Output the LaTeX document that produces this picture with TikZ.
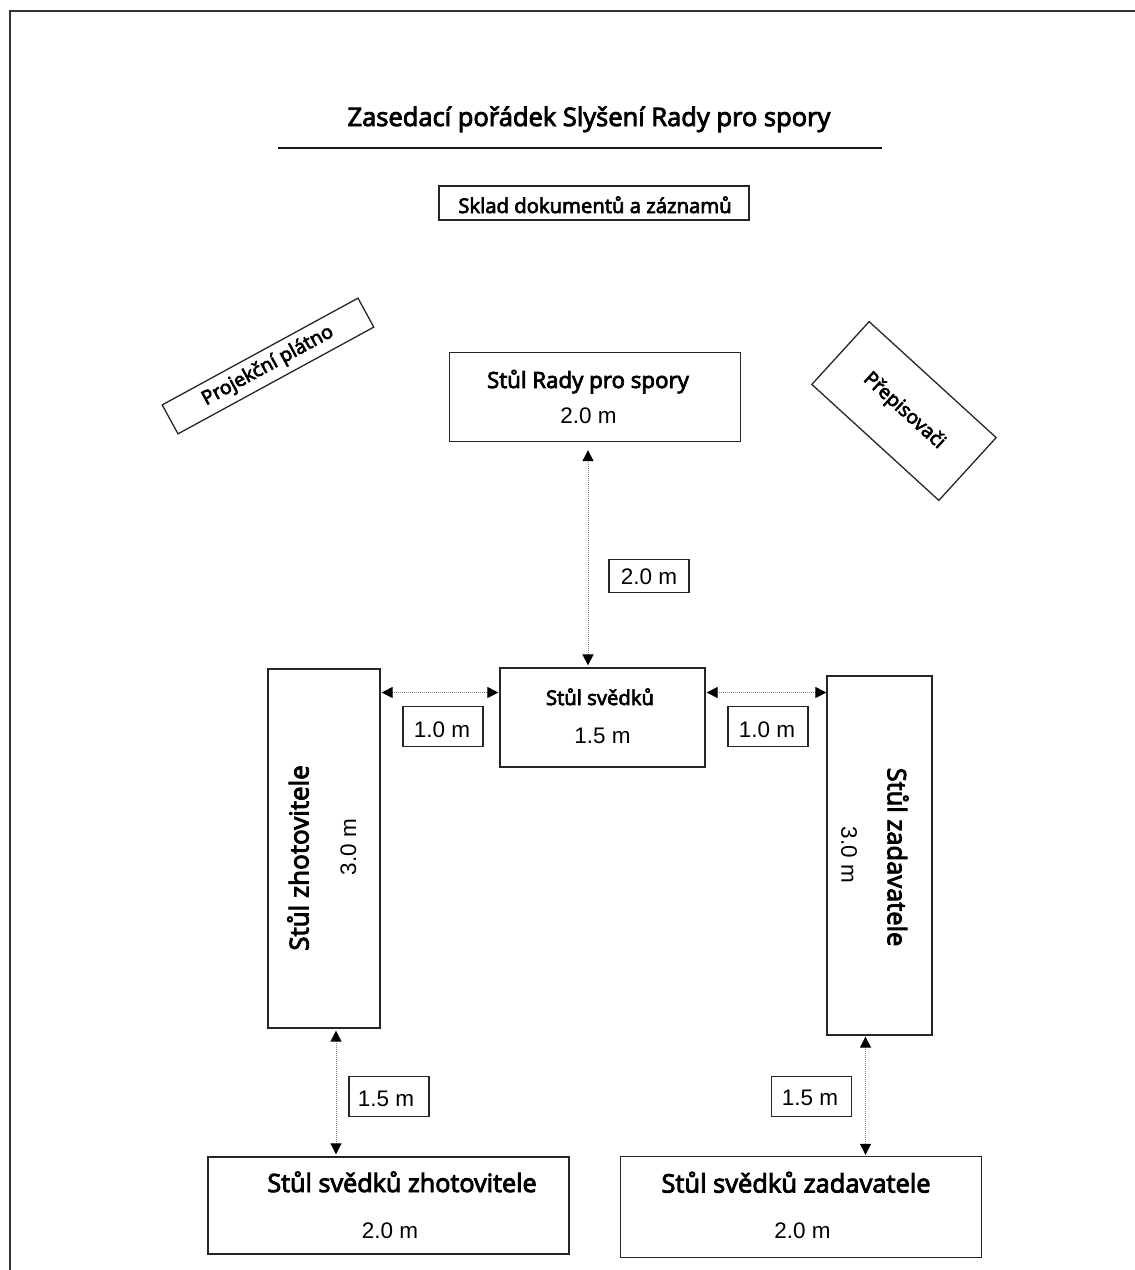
\documentclass[tikz,border=0pt]{standalone}
\usepackage{fontspec}
\setmainfont{Open Sans}
\newfontfamily\lblfont{Open Sans}[FakeBold=3.5]
\newfontfamily\numfont{Liberation Sans}
\usetikzlibrary{arrows.meta}
\tikzset{
  tbl/.style={draw=black!85, line width=1.3pt, inner sep=0pt, rectangle},
  lbl/.style={font=\lblfont\fontsize{22.3}{26}\selectfont, inner sep=0pt, anchor=base},
  lblsm/.style={font=\lblfont\fontsize{20.3}{24}\selectfont, inner sep=0pt, anchor=base},
  num/.style={font=\numfont\fontsize{22.5}{26}\selectfont, inner sep=0pt, anchor=base},
  numbox/.style={draw=black!85, line width=1.2pt, inner sep=0pt, rectangle, minimum width=80pt},
  dimline/.style={draw=black!50, densely dotted, line width=1pt,
    {Triangle[length=11pt,width=11pt,color=black]}-{Triangle[length=11pt,width=11pt,color=black]}},
}
\begin{document}
\begin{tikzpicture}[x=1pt,y=-1pt]
\useasboundingbox (0,0) rectangle (1135,1270);
\draw[black!80, line width=1.6pt] (10,11) rectangle (1170,1300);

% title
\node[lbl, font=\lblfont\fontsize{25.5}{30}\selectfont] (title) at (589,126) {Zasedací pořádek Slyšení Rady pro spory};
\draw[black!90, line width=1.5pt] (278,148) -- (882,148);

% storage
\node[tbl, minimum width=310pt, minimum height=34pt] (sklad) at (594,203) {};
\node[lbl, font=\lblfont\fontsize{20.3}{24}\selectfont] (skladT) at (595,213) {Sklad dokumentů a záznamů};

% projection screen
\node[tbl, rotate=28.6, minimum width=223pt, minimum height=33pt, font=\lblfont\fontsize{19.5}{22}\selectfont] (proj) at (268,366) {Projekční plátno};

% transcribers
\node[tbl, rotate=-42.4, minimum width=172pt, minimum height=85pt, font=\lblfont\fontsize{19.5}{23}\selectfont] (prep) at (904,411) {Přepisovači};

% board table
\node[tbl, minimum width=291pt, minimum height=89pt] (rada) at (595,397) {};
\node[lbl] (radaT) at (588,388) {Stůl Rady pro spory};
\node[num] (radaN) at (588.5,423) {2.0 m};

% witness table
\node[tbl, minimum width=205pt, minimum height=99pt] (wit) at (602.5,717.5) {};
\node[lblsm] (witT) at (600,705) {Stůl svědků};
\node[num] (witN) at (602.5,743) {1.5 m};

% contractor table
\node[tbl, minimum width=112pt, minimum height=359pt] (zhot) at (324,848.5) {};
\node[font=\lblfont\fontsize{26}{30}\selectfont, inner sep=0pt, rotate=90] (zhotT) at (298,858) {Stůl zhotovitele};
\node[font=\numfont\fontsize{22.5}{26}\selectfont, inner sep=0pt, rotate=90] (zhotN) at (348.5,847) {3.0 m};

% client table
\node[tbl, minimum width=105pt, minimum height=359pt] (zad) at (879.5,855.5) {};
\node[font=\lblfont\fontsize{25.5}{30}\selectfont, inner sep=0pt, rotate=-90] (zadT) at (898,857) {Stůl zadavatele};
\node[font=\numfont\fontsize{22.5}{26}\selectfont, inner sep=0pt, rotate=-90] (zadN) at (849,855) {3.0 m};

% contractor witnesses
\node[tbl, minimum width=361pt, minimum height=97pt] (zw) at (388.5,1205.5) {};
\node[lbl, font=\lblfont\fontsize{25.2}{30}\selectfont] (zwT) at (402,1192) {Stůl svědků zhotovitele};
\node[num] (zwN) at (390,1238) {2.0 m};

% client witnesses
\node[tbl, minimum width=361pt, minimum height=101pt] (zdw) at (801,1207) {};
\node[lbl, font=\lblfont\fontsize{25.5}{30}\selectfont] (zdwT) at (796,1192.5) {Stůl svědků zadavatele};
\node[num] (zdwN) at (802.5,1238) {2.0 m};

% distance labels
\node[numbox, minimum height=33pt] (d1) at (649,576) {};
\node[num] (d1T) at (649,584) {2.0 m};
\node[numbox, minimum height=40pt] (d2) at (443,726.5) {};
\node[num] (d2T) at (442,737) {1.0 m};
\node[numbox, minimum height=40pt] (d3) at (768,726.5) {};
\node[num] (d3T) at (767,737) {1.0 m};
\node[numbox, minimum height=40pt] (d4) at (389,1096.5) {};
\node[num] (d4T) at (386,1106) {1.5 m};
\node[numbox, minimum height=40pt] (d5) at (811.7,1096.5) {};
\node[num] (d5T) at (810,1105) {1.5 m};

% connectors
\coordinate (vx) at (588,0);
\coordinate (hy) at (0,692.5);
\coordinate (lx) at (336,0);
\coordinate (rx) at (865.5,0);
\draw[dimline, shorten >=8pt, shorten <=2pt] (wit.north -| vx) -- (rada.south -| vx);
\draw[dimline, shorten >=1pt, shorten <=1pt] (zhot.east |- hy) -- (wit.west |- hy);
\draw[dimline, shorten >=0pt, shorten <=1pt] (wit.east |- hy) -- (zad.west |- hy);
\draw[dimline, shorten >=2pt, shorten <=2pt] (zhot.south -| lx) -- (zw.north -| lx);
\draw[dimline, shorten >=1pt, shorten <=1pt] (zad.south -| rx) -- (zdw.north -| rx);
\end{tikzpicture}
\end{document}
